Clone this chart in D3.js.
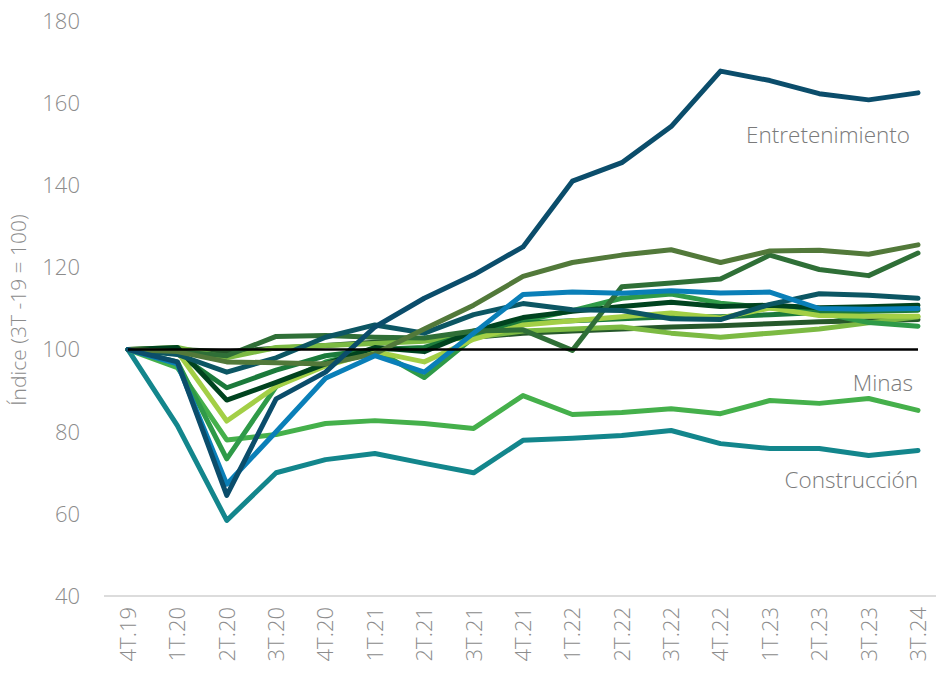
<!DOCTYPE html>
<html>
<head>
<meta charset="utf-8">
<script src="https://cdn.jsdelivr.net/npm/d3@7"></script>
<style>
  body { margin: 0; background: #fff; }
  text { font-family: "Open Sans", sans-serif; font-weight: 300; }
</style>
</head>
<body>
<svg id="chart" width="940" height="673"></svg>
<script>
const quarters = ['4T.19','1T.20','2T.20','3T.20','4T.20','1T.21','2T.21','3T.21','4T.21',
                  '1T.22','2T.22','3T.22','4T.22','1T.23','2T.23','3T.23','3T.24'];
const yTicks = [40, 60, 80, 100, 120, 140, 160, 180];

const construccion = [100, 81.5, 58.4, 70, 73.2, 74.7, 72.3, 70, 77.9, 78.4, 79.1, 80.3, 77.1, 75.9, 75.9, 74.2, 75.4];
const minas        = [100, 95.6, 78, 79.3, 82, 82.7, 82, 80.8, 88.8, 84.2, 84.7, 85.6, 84.4, 87.6, 86.9, 88.1, 85.2];
const serieJ       = [100, 100, 99.5, 100.3, 101, 101.8, 102.5, 103, 104, 104.5, 105, 105.5, 105.8, 106.3, 106.8, 107, 107.3];
const serieI       = [100, 100.5, 98, 100.5, 101, 101.5, 102, 103, 104.5, 105, 105.5, 104, 103, 104, 105, 106.5, 108];
const serieG2      = [100, 97, 73.4, 91, 97, 100, 93.2, 103, 107, 109.5, 112.5, 113.5, 111.3, 110.2, 109, 106.6, 105.7];
const serieG       = [100, 99, 90.7, 95, 98.5, 100, 100.5, 104, 106.5, 107, 107.5, 108, 108, 108.5, 109, 109.3, 109.6];
const serieH       = [100, 99.5, 82.6, 91, 96, 99.5, 97, 102.5, 106, 107, 108, 108.9, 107.7, 110.1, 108.3, 108.1, 108.1];
const serieF       = [100, 100.5, 87.7, 92, 96.5, 100.5, 99.5, 104.5, 107.8, 109.3, 110.5, 111.5, 110.5, 110.8, 110.2, 110.4, 110.8];
const serieD       = [100, 99.5, 98.5, 103.2, 103.4, 103, 102.8, 104.5, 104.8, 99.8, 115.3, 116.2, 117.2, 123, 119.5, 118, 123.5];
const serieE       = [100, 98.8, 94.5, 98, 103, 106, 104, 108.5, 111.2, 109.7, 109.5, 107.5, 107.3, 111, 113.6, 113.2, 112.5];
const serieC       = [100, 99.5, 97, 96.8, 96.5, 99, 105, 110.8, 117.8, 121.2, 123, 124.3, 121.2, 124, 124.2, 123.2, 125.5];
const serieB       = [100, 96.5, 67.2, 80, 93, 98.5, 94.5, 104, 113.4, 114, 113.7, 114.3, 113.8, 114, 110, 109.8, 110];
const entretenimiento = [100, 97, 64.5, 88, 94.5, 105.5, 112.5, 118.2, 125, 141, 145.5, 154.3, 167.8, 165.5, 162.3, 160.8, 162.5];

const series = [
  { values: construccion, color: '#13868c' },
  { values: minas, color: '#45b04b' },
  { values: serieJ, color: '#26582b' },
  { values: serieI, color: '#7cba43' },
  { values: serieG2, color: '#2f9a48' },
  { values: serieG, color: '#1b7a3b' },
  { values: serieH, color: '#a3cf46' },
  { values: serieF, color: '#00431f' },
  { values: serieD, color: '#2f6f37' },
  { values: serieE, color: '#0c5663' },
  { values: serieC, color: '#52793a' },
  { values: serieB, color: '#0a7fb8' },
  { values: entretenimiento, color: '#0b4d6b' }
];

const svg = d3.select('#chart');

const x = d3.scalePoint()
            .domain(quarters)
            .range([128, 918]);

const y = d3.scaleLinear()
            .domain([40, 180])
            .range([596, 21]);

// bottom baseline
svg.append('line')
   .attr('x1', 104).attr('x2', 936)
   .attr('y1', y(40)).attr('y2', y(40))
   .style('stroke', '#dcdcdc')
   .style('stroke-width', 2);

// y tick labels
svg.selectAll('text.ytick')
   .data(yTicks)
   .enter()
   .append('text')
   .classed('ytick', true)
   .attr('x', 80)
   .attr('y', d => y(d))
   .attr('dy', '0.36em')
   .attr('text-anchor', 'end')
   .style('font-size', '22px')
   .style('fill', '#8c8c8c')
   .text(d => d);

// x tick labels (rotated)
svg.selectAll('text.xtick')
   .data(quarters)
   .enter()
   .append('text')
   .classed('xtick', true)
   .attr('transform', d => `translate(${x(d)},607) rotate(-90)`)
   .attr('dy', '0.36em')
   .attr('text-anchor', 'end')
   .style('font-size', '22px')
   .style('fill', '#8c8c8c')
   .text(d => d);

// y axis title
svg.append('text')
   .attr('transform', 'translate(26,310) rotate(-90)')
   .attr('text-anchor', 'middle')
   .style('font-size', '21px')
   .style('fill', '#8c8c8c')
   .text('Índice (3T -19 = 100)');

const line = d3.line()
               .x((d, i) => x(quarters[i]))
               .y(d => y(d));

svg.selectAll('path.serie')
   .data(series)
   .enter()
   .append('path')
   .classed('serie', true)
   .attr('d', d => line(d.values))
   .style('fill', 'none')
   .style('stroke', d => d.color)
   .style('stroke-width', 5)
   .style('stroke-linejoin', 'round')
   .style('stroke-linecap', 'round');

// reference line at 100
svg.append('line')
   .attr('x1', x(quarters[0])).attr('x2', x(quarters[quarters.length - 1]))
   .attr('y1', y(100)).attr('y2', y(100))
   .style('stroke', '#000')
   .style('stroke-width', 2.5);

// series labels
const labels = [
  { text: 'Entretenimiento', x: 910, y: 143 },
  { text: 'Minas', x: 913, y: 391 },
  { text: 'Construcción', x: 918, y: 488 }
];
svg.selectAll('text.lbl')
   .data(labels)
   .enter()
   .append('text')
   .classed('lbl', true)
   .attr('x', d => d.x)
   .attr('y', d => d.y)
   .attr('text-anchor', 'end')
   .style('font-size', '22.5px')
   .style('fill', '#7a7a7a')
   .text(d => d.text);
</script>
</body>
</html>
